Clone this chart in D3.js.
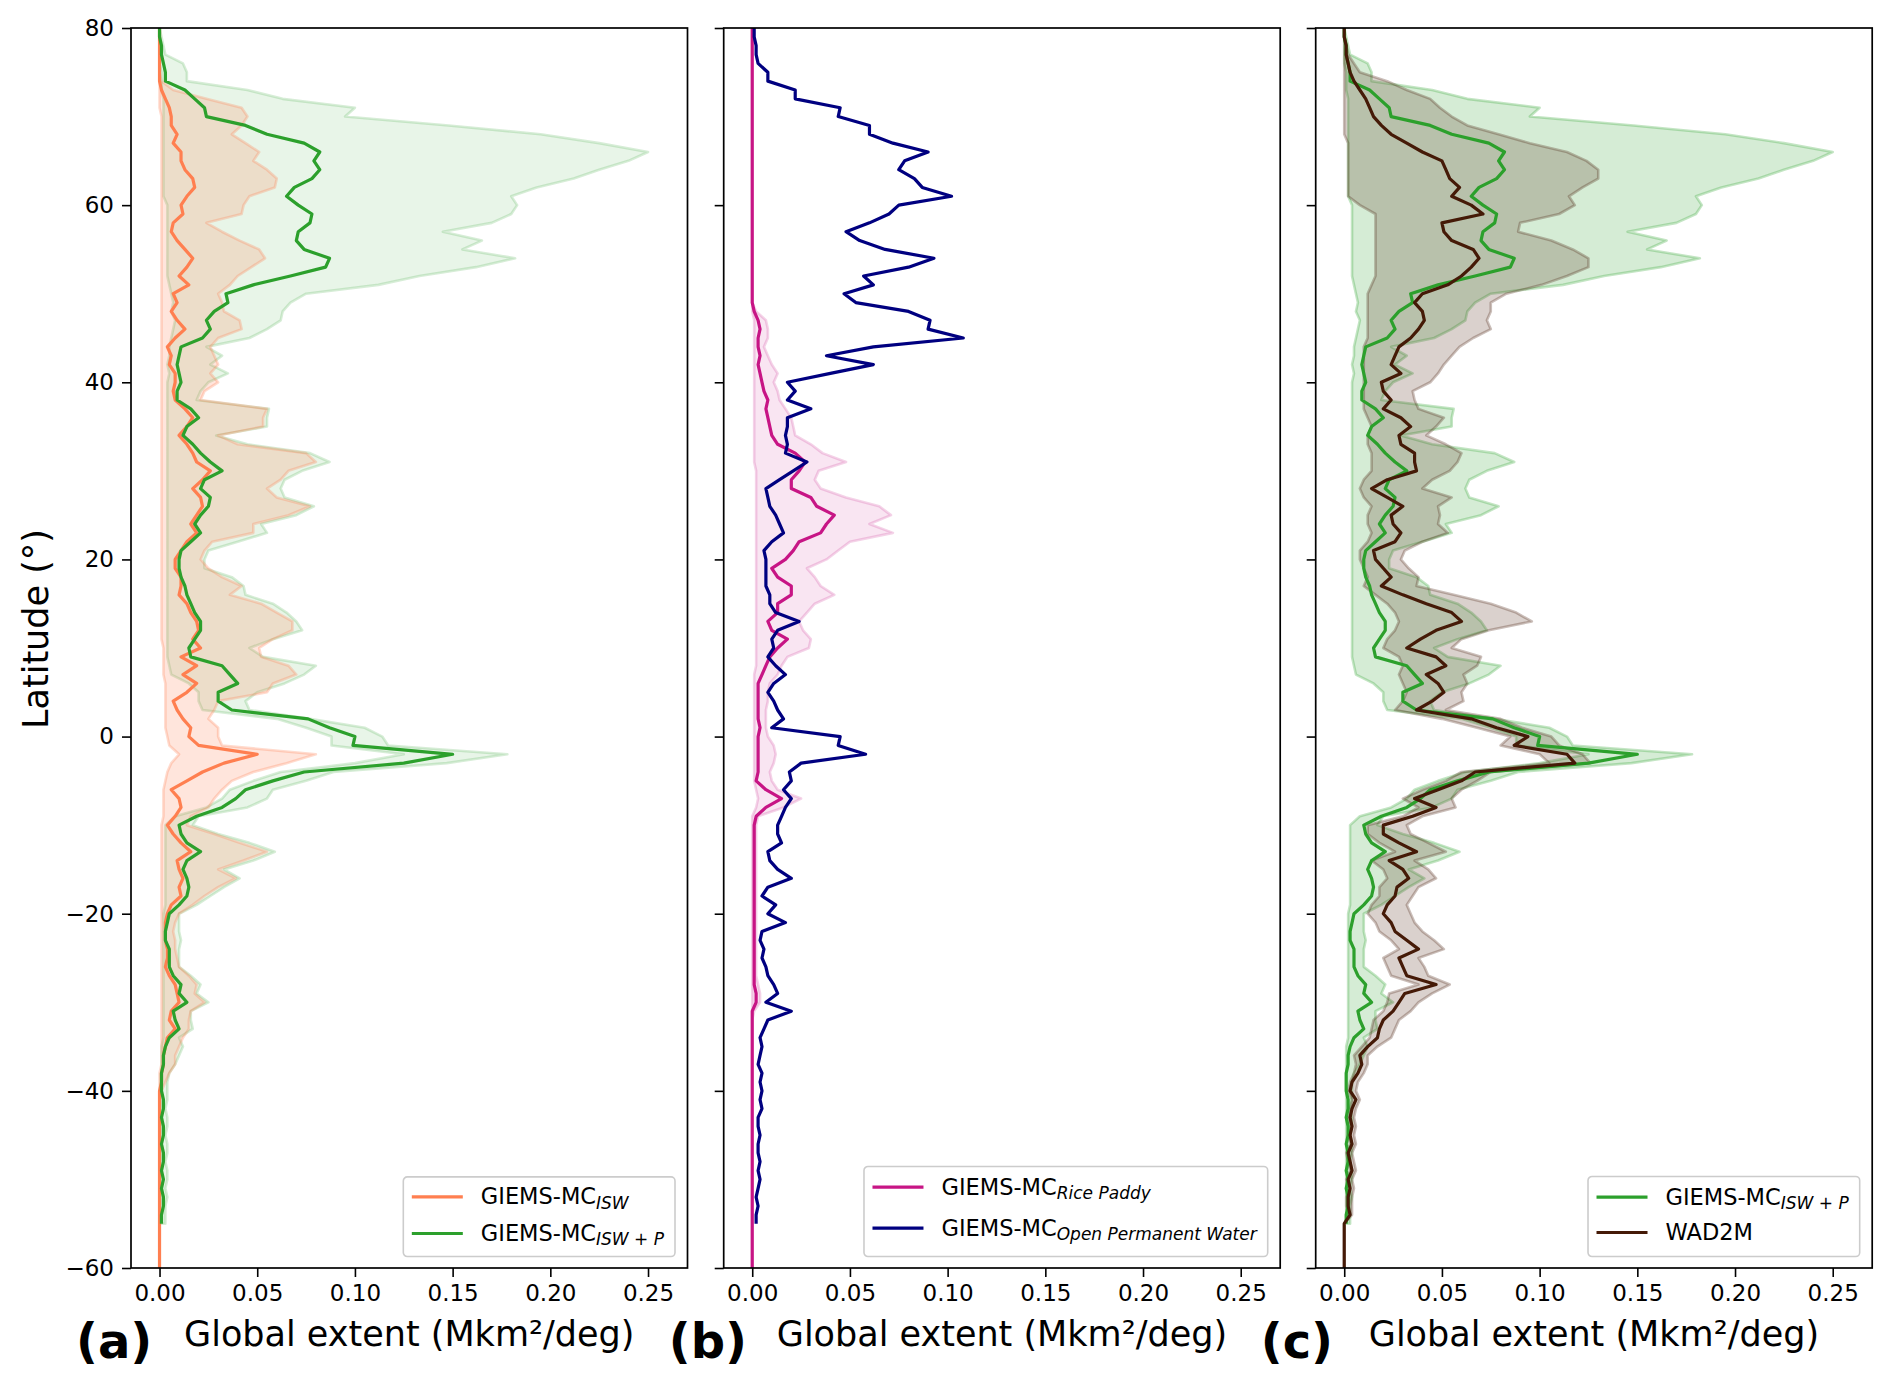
<!DOCTYPE html>
<html>
<head>
<meta charset="utf-8">
<script src="https://cdn.jsdelivr.net/npm/d3@7"></script>
<style>
  body { margin: 0; background: #fff; }
  text { font-family: "DejaVu Sans", sans-serif; }
</style>
</head>
<body>
<svg id="fig" width="1892" height="1383"></svg>
<script>
// latitude grid, 80N -> 60S, 1 degree
var lat = d3.range(80, -61, -1);
var xTicks = [0, 0.05, 0.10, 0.15, 0.20, 0.25];
var yTicks = [-60, -40, -20, 0, 20, 40, 60, 80];

// GIEMS-MC ISW (orange)
var iswMean = [
  0, 0, 0, 0, 0, 0, 0, .001, .003, .005,
  .006, .006, .009, .007, .011, .011, .013, .017, .018, .014,
  .011, .012, .007, .006, .009, .013, .017, .014, .010, .015,
  .007, .009, .006, .009, .013, .008, .004, .006, .005, .008,
  .008, .007, .008, .013, .017, .014, .010, .014, .017, .019,
  .026, .022, .017, .021, .022, .019, .016, .019, .014, .011,
  .008, .008, .011, .011, .010, .014, .016, .019, .020, .017,
  .021, .011, .019, .012, .019, .014, .007, .009, .012, .016,
  .015, .020, .050, .033, .022, .014, .006, .010, .011, .008,
  .004, .007, .011, .016, .009, .010, .012, .010, .011, .006,
  .004, .003, .003, .003, .004, .004, .003, .005, .008, .009,
  .010, .006, .005, .008, .004, .003, .002, .002, .001, .001,
  0, 0, 0, 0, 0, 0, 0, 0, 0, 0,
  0, 0, 0, 0, 0, 0, 0, 0, 0, 0,
  0];
var iswHi = [
  0, 0, 0, 0, 0, 0, .001, .007, .024, .042,
  .045, .042, .037, .044, .051, .048, .055, .060, .059, .046,
  .043, .042, .024, .032, .041, .051, .054, .047, .040, .036,
  .030, .032, .033, .041, .042, .030, .026, .028, .030, .026,
  .030, .023, .021, .055, .053, .053, .030, .040, .075, .080,
  .066, .062, .055, .060, .077, .066, .048, .048, .027, .023,
  .021, .025, .032, .042, .036, .052, .060, .068, .068, .058,
  .051, .052, .066, .070, .058, .055, .030, .028, .025, .030,
  .030, .032, .080, .065, .048, .037, .032, .028, .025, .016,
  .014, .028, .041, .055, .043, .030, .039, .030, .023, .017,
  .010, .008, .007, .008, .008, .009, .010, .015, .019, .018,
  .023, .016, .015, .015, .012, .010, .008, .008, .005, .003,
  .001, 0, 0, 0, 0, 0, 0, 0, 0, 0,
  0, 0, 0, 0, 0, 0, 0, 0, 0, 0,
  0];
var iswLo = [
  0, 0, 0, 0, 0, 0, 0, 0, 0, 0,
  .001, .001, .001, .001, .001, .001, .001, .001, .001, .001,
  .001, .001, .001, .001, .001, .001, .001, .001, .001, .001,
  .001, .001, .001, .001, .001, .001, .001, .001, .001, .001,
  .001, .001, .001, .001, .001, .001, .001, .001, .001, .001,
  .001, .001, .001, .001, .001, .001, .001, .001, .001, .001,
  .001, .001, .001, .001, .001, .001, .001, .001, .001, .001,
  .002, .002, .002, .002, .003, .003, .003, .003, .003, .003,
  .004, .005, .010, .006, .004, .003, .002, .002, .002, .002,
  .001, .001, .001, .001, .001, .001, .001, .001, .001, .001,
  .001, .001, .001, .001, .001, .001, .001, .001, .001, .001,
  .001, .001, .001, .001, .001, .001, .001, .001, 0, 0,
  0, 0, 0, 0, 0, 0, 0, 0, 0, 0,
  0, 0, 0, 0, 0, 0, 0, 0, 0, 0,
  0];

// GIEMS-MC ISW+P (green)
var iswpMean = [
  0, 0, .001, .001, .002, .003, .003, .013, .018, .023,
  .024, .044, .055, .074, .082, .079, .082, .078, .069, .065,
  .071, .078, .077, .071, .070, .074, .087, .085, .067, .048,
  .034, .035, .028, .024, .026, .022, .011, .010, .009, .010,
  .011, .009, .009, .016, .020, .014, .012, .017, .021, .026,
  .032, .023, .021, .026, .025, .021, .018, .021, .016, .011,
  .010, .010, .011, .013, .014, .016, .018, .021, .021, .018,
  .015, .016, .032, .036, .040, .030, .030, .037, .076, .087,
  .100, .099, .150, .125, .074, .058, .044, .039, .032, .019,
  .010, .011, .014, .021, .014, .012, .014, .015, .014, .010,
  .005, .004, .003, .003, .005, .005, .005, .007, .011, .010,
  .014, .007, .008, .010, .005, .003, .002, .002, .001, .001,
  .001, .002, .002, .001, .002, .002, .001, .002, .002, .001,
  .002, .001, .002, .002, .001, .001, null, null, null, null,
  null];
var iswpHi = [
  0, .001, .002, .003, .012, .014, .014, .045, .063, .100,
  .095, .148, .195, .225, .250, .240, .225, .212, .193, .180,
  .183, .180, .170, .145, .165, .155, .182, .162, .133, .112,
  .075, .067, .063, .062, .055, .046, .024, .032, .026, .035,
  .025, .021, .019, .056, .055, .055, .029, .045, .077, .087,
  .073, .064, .062, .064, .079, .070, .052, .055, .040, .025,
  .023, .023, .037, .043, .044, .058, .065, .070, .073, .058,
  .046, .053, .080, .074, .064, .050, .044, .046, .077, .105,
  .114, .117, .178, .147, .089, .075, .058, .055, .045, .020,
  .017, .030, .046, .059, .048, .033, .041, .033, .026, .019,
  .010, .010, .010, .011, .010, .010, .010, .016, .021, .019,
  .025, .016, .016, .017, .010, .012, .010, .008, .005, .004,
  .004, .004, .003, .004, .004, .003, .004, .004, .003, .004,
  .004, .003, .004, .003, .003, .003, null, null, null, null,
  null];
var iswpLo = [
  0, 0, 0, 0, 0, .001, .001, .001, .002, .002,
  .002, .002, .002, .002, .002, .002, .002, .002, .002, .002,
  .004, .004, .004, .004, .004, .004, .004, .004, .004, .005,
  .006, .007, .006, .008, .007, .006, .005, .005, .004, .005,
  .004, .004, .004, .004, .004, .004, .004, .004, .004, .004,
  .004, .004, .004, .004, .004, .004, .004, .004, .004, .004,
  .004, .004, .004, .004, .004, .004, .004, .004, .004, .004,
  .004, .004, .005, .006, .015, .020, .020, .022, .060, .075,
  .088, .088, .125, .100, .062, .048, .036, .032, .024, .008,
  .003, .003, .003, .003, .003, .003, .003, .003, .003, .003,
  .002, .002, .002, .002, .002, .002, .002, .002, .002, .002,
  .002, .002, .002, .002, .002, .001, .001, .001, .001, .001,
  .001, .001, .001, .001, .001, .001, .001, .001, .001, .001,
  .001, .001, .001, .001, .001, .001, null, null, null, null,
  null];

// GIEMS-MC Rice Paddy (magenta)
var riceMean = [
  0, 0, 0, 0, 0, 0, 0, 0, 0, 0,
  0, 0, 0, 0, 0, 0, 0, 0, 0, 0,
  0, 0, 0, 0, 0, 0, 0, 0, 0, 0,
  0, 0, .001, .003, .004, .003, .003, .004, .003, .004,
  .005, .006, .008, .007, .008, .009, .010, .013, .022, .027,
  .024, .020, .020, .030, .033, .042, .038, .035, .024, .021,
  .017, .010, .013, .020, .020, .013, .013, .008, .010, .018,
  .013, .009, .007, .005, .003, .003, .003, .003, .003, .004,
  .003, .003, .003, .003, .003, .002, .007, .015, .007, .002,
  .001, .001, .001, .001, .001, .001, .001, .001, .001, .001,
  .001, .001, .001, .001, .001, .001, .001, .001, .001, .002,
  .002, 0, 0, 0, 0, 0, 0, 0, 0, 0,
  0, 0, 0, 0, 0, 0, 0, 0, 0, 0,
  0, 0, 0, 0, 0, 0, 0, 0, 0, 0,
  0];
var riceHi = [
  0, 0, 0, 0, 0, 0, 0, 0, 0, 0,
  0, 0, 0, 0, 0, 0, 0, 0, 0, 0,
  0, 0, 0, 0, 0, 0, 0, 0, 0, 0,
  0, 0, .002, .007, .008, .008, .006, .008, .010, .013,
  .011, .013, .014, .017, .020, .021, .022, .030, .036, .048,
  .034, .032, .035, .048, .065, .071, .060, .072, .050, .044,
  .038, .028, .032, .035, .042, .032, .028, .024, .026, .030,
  .029, .018, .015, .013, .009, .008, .008, .007, .007, .007,
  .008, .011, .012, .011, .009, .010, .013, .025, .016, .003,
  .002, .002, .002, .002, .002, .002, .002, .002, .002, .002,
  .002, .002, .002, .002, .002, .002, .002, .002, .003, .004,
  .004, .001, 0, 0, 0, 0, 0, 0, 0, 0,
  0, 0, 0, 0, 0, 0, 0, 0, 0, 0,
  0, 0, 0, 0, 0, 0, 0, 0, 0, 0,
  0];
var riceLo = [
  0, 0, 0, 0, 0, 0, 0, 0, 0, 0,
  0, 0, 0, 0, 0, 0, 0, 0, 0, 0,
  0, 0, 0, 0, 0, 0, 0, 0, 0, 0,
  0, 0, 0, .001, .001, .001, .001, .001, .001, .001,
  .001, .001, .001, .001, .001, .001, .001, .001, .001, .001,
  .002, .002, .002, .002, .002, .002, .002, .002, .002, .002,
  .002, .002, .002, .002, .002, .002, .002, .002, .002, .002,
  .002, .002, .002, .001, .001, .001, .001, .001, .001, .001,
  .001, .001, .001, .001, .001, .001, .002, .003, .002, 0,
  0, 0, 0, 0, 0, 0, 0, 0, 0, 0,
  0, 0, 0, 0, 0, 0, 0, 0, 0, 0,
  0, 0, 0, 0, 0, 0, 0, 0, 0, 0,
  0, 0, 0, 0, 0, 0, 0, 0, 0, 0,
  0, 0, 0, 0, 0, 0, 0, 0, 0, 0,
  0];

// GIEMS-MC Open Permanent Water (navy)
var owMean = [
  .001, .001, .002, .002, .003, .008, .008, .022, .022, .045,
  .044, .060, .060, .072, .090, .078, .075, .083, .087, .102,
  .075, .070, .060, .048, .055, .068, .093, .080, .057, .062,
  .047, .053, .080, .091, .090, .108, .062, .038, .062, .040,
  .018, .022, .018, .030, .018, .018, .017, .018, .017, .028,
  .021, .014, .007, .008, .009, .012, .014, .016, .010, .006,
  .007, .007, .007, .007, .009, .009, .012, .024, .013, .010,
  .011, .008, .012, .017, .011, .008, .011, .013, .016, .010,
  .045, .044, .058, .025, .019, .020, .016, .020, .017, .015,
  .013, .013, .015, .008, .009, .013, .020, .008, .005, .012,
  .008, .017, .005, .004, .006, .005, .007, .008, .011, .013,
  .007, .020, .008, .006, .004, .005, .004, .003, .005, .004,
  .005, .004, .005, .003, .003, .004, .003, .003, .004, .003,
  .004, .003, .002, .003, .002, .002, null, null, null, null,
  null];

// WAD2M (dark brown)
var wadMean = [
  0, 0, .001, .001, .002, .003, .005, .008, .011, .013,
  .015, .019, .024, .032, .040, .050, .052, .054, .059, .055,
  .065, .071, .050, .051, .055, .066, .069, .065, .060, .053,
  .040, .036, .040, .041, .038, .034, .028, .026, .024, .029,
  .019, .020, .024, .020, .029, .034, .028, .029, .036, .036,
  .037, .022, .014, .022, .030, .024, .025, .029, .026, .015,
  .016, .020, .024, .019, .030, .042, .055, .060, .047, .039,
  .032, .047, .052, .042, .048, .051, .045, .037, .065, .078,
  .094, .087, .114, .118, .067, .060, .048, .036, .047, .035,
  .020, .020, .028, .037, .023, .030, .033, .027, .026, .022,
  .020, .024, .026, .032, .038, .028, .030, .032, .047, .031,
  .028, .025, .020, .018, .017, .012, .008, .009, .007, .004,
  .003, .006, .004, .003, .004, .003, .004, .002, .003, .004,
  .002, .003, .002, .002, .003, 0, 0, 0, 0, 0,
  0];
var wadHi = [
  0, 0, .001, .002, .005, .008, .022, .032, .044, .049,
  .055, .063, .079, .095, .114, .124, .130, .130, .122, .115,
  .118, .110, .090, .089, .106, .117, .125, .125, .114, .101,
  .083, .075, .075, .073, .075, .066, .059, .055, .051, .048,
  .044, .035, .036, .038, .051, .047, .042, .052, .060, .058,
  .054, .045, .040, .055, .048, .049, .048, .053, .040, .031,
  .029, .033, .038, .037, .056, .075, .088, .096, .074, .060,
  .055, .070, .068, .061, .063, .060, .061, .052, .080, .091,
  .106, .110, .122, .126, .075, .068, .060, .055, .057, .040,
  .032, .034, .043, .052, .036, .043, .047, .038, .035, .032,
  .034, .036, .040, .046, .051, .038, .041, .043, .054, .045,
  .038, .034, .028, .026, .024, .017, .012, .012, .010, .007,
  .006, .008, .006, .005, .006, .005, .006, .004, .005, .006,
  .004, .005, .004, .004, .004, 0, 0, 0, 0, 0,
  0];
var wadLo = [
  0, 0, 0, 0, 0, 0, 0, 0, 0, 0,
  0, 0, 0, .002, .002, .002, .002, .002, .002, .002,
  .008, .016, .016, .016, .016, .016, .016, .016, .016, .014,
  .012, .012, .012, .012, .012, .012, .010, .010, .010, .010,
  .010, .010, .010, .010, .012, .014, .012, .012, .014, .014,
  .014, .010, .008, .010, .014, .012, .012, .014, .012, .008,
  .008, .010, .012, .010, .016, .022, .026, .028, .026, .022,
  .020, .028, .030, .028, .030, .032, .030, .026, .050, .068,
  .085, .080, .100, .105, .060, .052, .040, .030, .038, .030,
  .012, .012, .018, .026, .014, .020, .022, .018, .018, .014,
  .012, .016, .018, .024, .028, .020, .022, .024, .038, .023,
  .022, .020, .015, .014, .013, .009, .005, .006, .005, .003,
  .002, .004, .003, .002, .003, .002, .003, .001, .002, .003,
  .001, .002, .001, .001, .002, 0, 0, 0, 0, 0,
  0];

var ORANGE = "#ff7f50", GREEN = "#2ca02c", PINK = "#c71585", NAVY = "#000080", BROWN = "#451a07";

function rows(arr) { return lat.map(function(L, i) { return {lat: L, v: arr[i]}; }); }
function band(lo, hi) { return lat.map(function(L, i) { return {lat: L, lo: lo[i], hi: hi[i]}; }); }

var panels = [
  {tag: "(a)", left: 131, yLabels: true,
   bands: [{d: band(iswpLo, iswpHi), c: GREEN, a: 0.11}, {d: band(iswLo, iswHi), c: ORANGE, a: 0.2}],
   lines: [{d: rows(iswMean), c: ORANGE}, {d: rows(iswpMean), c: GREEN}],
   legend: [{c: ORANGE, sub: [["ISW", true]]}, {c: GREEN, sub: [["ISW", true], [" + ", false], ["P", true]]}],
   legTop: 20, legGap: 36.6, legBottom: 23},
  {tag: "(b)", left: 723.7, yLabels: false,
   bands: [{d: band(riceLo, riceHi), c: PINK, a: 0.11}],
   lines: [{d: rows(riceMean), c: PINK}, {d: rows(owMean), c: NAVY}],
   legend: [{c: PINK, sub: [["Rice Paddy", true]]}, {c: NAVY, sub: [["Open Permanent Water", true]]}],
   legTop: 20.6, legGap: 41, legBottom: 28.4},
  {tag: "(c)", left: 1315.7, yLabels: false,
   bands: [{d: band(iswpLo, iswpHi), c: GREEN, a: 0.2}, {d: band(wadLo, wadHi), c: BROWN, a: 0.2}],
   lines: [{d: rows(iswpMean), c: GREEN}, {d: rows(wadMean), c: BROWN}],
   legend: [{c: GREEN, sub: [["ISW", true], [" + ", false], ["P", true]]}, {c: BROWN, main: "WAD2M", sub: []}],
   legTop: 20.6, legGap: 35.4, legBottom: 24}
];

var W = 556.5, axTop = 28, axBottom = 1268;
var svg = d3.select("#fig");
svg.append("rect").attr("width", 1892).attr("height", 1383).attr("fill", "#fff");
svg.append("clipPath").attr("id", "pageclip").append("rect")
  .attr("width", 1892).attr("height", 1364);
var page = svg.append("g").attr("clip-path", "url(#pageclip)");

var y = d3.scaleLinear().domain([-60, 80]).range([axBottom, axTop]);

panels.forEach(function(p, k) {
  var x = d3.scaleLinear().domain([-0.0146, 0.2702]).range([p.left, p.left + W]);
  var cid = "clip" + k;
  svg.append("clipPath").attr("id", cid).append("rect")
    .attr("x", p.left).attr("y", axTop).attr("width", W).attr("height", axBottom - axTop);
  var g = page.append("g");
  var plot = g.append("g").attr("clip-path", "url(#" + cid + ")");

  var area = d3.area()
    .defined(function(d) { return d.lo != null && d.hi != null; })
    .y(function(d) { return y(d.lat); })
    .x0(function(d) { return x(d.lo); })
    .x1(function(d) { return x(d.hi); });
  var line = d3.line()
    .defined(function(d) { return d.v != null; })
    .x(function(d) { return x(d.v); })
    .y(function(d) { return y(d.lat); });

  p.bands.forEach(function(b) {
    plot.append("path").attr("d", area(b.d))
      .attr("fill", b.c).attr("fill-opacity", b.a)
      .attr("stroke", b.c).attr("stroke-opacity", b.a + 0.08)
      .attr("stroke-width", 2.6).attr("stroke-linejoin", "round");
  });
  p.lines.forEach(function(l) {
    plot.append("path").attr("d", line(l.d))
      .attr("fill", "none").attr("stroke", l.c)
      .attr("stroke-width", 3.2).attr("stroke-linejoin", "round");
  });

  // axes
  var xa = g.append("g").attr("transform", "translate(0," + axBottom + ")")
    .call(d3.axisBottom(x).tickValues(xTicks).tickFormat(d3.format(".2f")).tickSize(9).tickPadding(8));
  var ya = g.append("g").attr("transform", "translate(" + p.left + ",0)")
    .call(d3.axisLeft(y).tickValues(yTicks).tickSize(9).tickPadding(8)
      .tickFormat(p.yLabels ? d3.format("d") : function() { return ""; }));
  [xa, ya].forEach(function(a) {
    a.select(".domain").remove();
    a.selectAll("line").attr("stroke", "#000").attr("stroke-width", 1.6);
    a.selectAll("text").attr("font-family", "DejaVu Sans").attr("font-size", 23).attr("fill", "#000");
  });

  g.append("rect").attr("x", p.left).attr("y", axTop).attr("width", W).attr("height", axBottom - axTop)
    .attr("fill", "none").attr("stroke", "#000").attr("stroke-width", 1.7);

  g.append("text").attr("x", p.left + W / 2).attr("y", 1346)
    .attr("text-anchor", "middle").attr("font-size", 35).text("Global extent (Mkm²/deg)");
  g.append("text").attr("x", p.left - 55).attr("y", 1358)
    .attr("font-size", 48).attr("font-weight", "bold").text(p.tag);

  // legend
  var lg = g.append("g");
  var box = lg.append("rect");
  var tx = [];
  p.legend.forEach(function(e, i) {
    var yy = p.legTop + i * p.legGap;
    var t = lg.append("text").attr("y", yy + 7.5).attr("font-size", 22.5);
    t.append("tspan").text(e.main || "GIEMS-MC");
    e.sub.forEach(function(s, j) {
      t.append("tspan").attr("dy", j === 0 ? 4.5 : null).attr("font-size", 17)
        .attr("font-style", s[1] ? "italic" : "normal").text(s[0]);
    });
    tx.push(t);
    lg.append("line").attr("x1", 8.5).attr("x2", 59.5).attr("y1", yy).attr("y2", yy)
      .attr("stroke", e.c).attr("stroke-width", 3.2);
  });
  tx.forEach(function(t) { t.attr("x", 77.5).attr("xml:space", "preserve"); });
  var tw = d3.max(tx, function(t) { return t.node().getComputedTextLength(); });
  var bw = 77.5 + tw + 11;
  var bh = p.legTop + (p.legend.length - 1) * p.legGap + p.legBottom;
  box.attr("width", bw).attr("height", bh).attr("rx", 4)
    .attr("fill", "#fff").attr("fill-opacity", 0.8)
    .attr("stroke", "#cccccc").attr("stroke-width", 1.6);
  lg.attr("transform", "translate(" + (p.left + W - 12.5 - bw) + "," + (1256.5 - bh) + ")");
});

page.append("text")
  .attr("transform", "translate(48,629) rotate(-90)")
  .attr("text-anchor", "middle").attr("font-size", 35).text("Latitude (°)");
</script>
</body>
</html>
